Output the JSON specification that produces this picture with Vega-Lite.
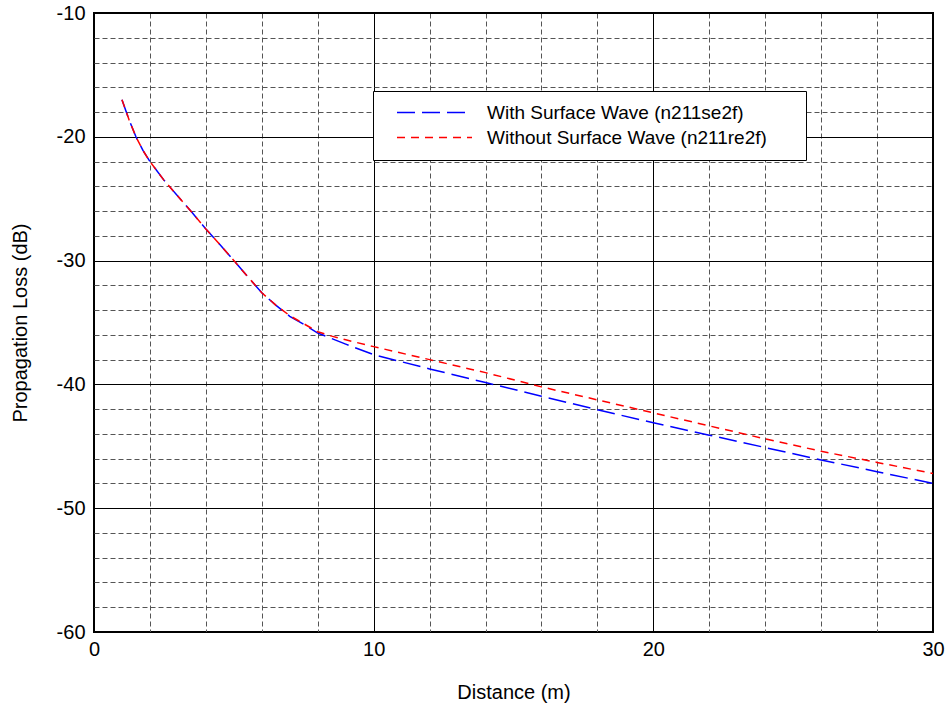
{
  "$schema": "https://vega.github.io/schema/vega-lite/v6.json",
  "autosize": {"type": "none"},
  "width": 839,
  "height": 619,
  "padding": {"left": 94, "top": 13, "right": 15, "bottom": 75},
  "background": "white",
  "config": {
    "view": {"stroke": "black", "strokeWidth": 2},
    "font": "Liberation Sans",
    "axis": {
      "labelFont": "Liberation Sans",
      "labelFontSize": 20,
      "labelColor": "black",
      "titleFont": "Liberation Sans",
      "titleFontSize": 20,
      "titleFontWeight": "normal",
      "titleColor": "black",
      "ticks": false,
      "tickSize": 0,
      "domain": false,
      "grid": true,
      "gridOpacity": 1,
      "gridWidth": 1
    }
  },
  "data": {
    "values": [
      {"series": "With Surface Wave (n211se2f)", "d": 1.0, "loss": -17.0},
      {"series": "With Surface Wave (n211se2f)", "d": 1.25, "loss": -18.6},
      {"series": "With Surface Wave (n211se2f)", "d": 1.5, "loss": -20.0},
      {"series": "With Surface Wave (n211se2f)", "d": 1.75, "loss": -21.1},
      {"series": "With Surface Wave (n211se2f)", "d": 2.0, "loss": -22.0},
      {"series": "With Surface Wave (n211se2f)", "d": 2.5, "loss": -23.5},
      {"series": "With Surface Wave (n211se2f)", "d": 3.0, "loss": -24.8},
      {"series": "With Surface Wave (n211se2f)", "d": 3.5, "loss": -26.1},
      {"series": "With Surface Wave (n211se2f)", "d": 4.0, "loss": -27.45},
      {"series": "With Surface Wave (n211se2f)", "d": 4.5, "loss": -28.7},
      {"series": "With Surface Wave (n211se2f)", "d": 5.0, "loss": -30.0},
      {"series": "With Surface Wave (n211se2f)", "d": 5.5, "loss": -31.3},
      {"series": "With Surface Wave (n211se2f)", "d": 6.0, "loss": -32.6},
      {"series": "With Surface Wave (n211se2f)", "d": 6.5, "loss": -33.6},
      {"series": "With Surface Wave (n211se2f)", "d": 7.0, "loss": -34.5},
      {"series": "With Surface Wave (n211se2f)", "d": 7.5, "loss": -35.15},
      {"series": "With Surface Wave (n211se2f)", "d": 8.0, "loss": -35.85},
      {"series": "With Surface Wave (n211se2f)", "d": 8.5, "loss": -36.3},
      {"series": "With Surface Wave (n211se2f)", "d": 9.0, "loss": -36.75},
      {"series": "With Surface Wave (n211se2f)", "d": 10.0, "loss": -37.6},
      {"series": "With Surface Wave (n211se2f)", "d": 12.0, "loss": -38.75},
      {"series": "With Surface Wave (n211se2f)", "d": 14.0, "loss": -39.85},
      {"series": "With Surface Wave (n211se2f)", "d": 16.0, "loss": -40.95},
      {"series": "With Surface Wave (n211se2f)", "d": 18.0, "loss": -42.05},
      {"series": "With Surface Wave (n211se2f)", "d": 20.0, "loss": -43.1},
      {"series": "With Surface Wave (n211se2f)", "d": 22.0, "loss": -44.1},
      {"series": "With Surface Wave (n211se2f)", "d": 24.0, "loss": -45.1},
      {"series": "With Surface Wave (n211se2f)", "d": 26.0, "loss": -46.1},
      {"series": "With Surface Wave (n211se2f)", "d": 28.0, "loss": -47.05},
      {"series": "With Surface Wave (n211se2f)", "d": 30.0, "loss": -48.0},
      {"series": "Without Surface Wave (n211re2f)", "d": 1.0, "loss": -17.0},
      {"series": "Without Surface Wave (n211re2f)", "d": 1.25, "loss": -18.6},
      {"series": "Without Surface Wave (n211re2f)", "d": 1.5, "loss": -20.0},
      {"series": "Without Surface Wave (n211re2f)", "d": 1.75, "loss": -21.1},
      {"series": "Without Surface Wave (n211re2f)", "d": 2.0, "loss": -22.0},
      {"series": "Without Surface Wave (n211re2f)", "d": 2.5, "loss": -23.5},
      {"series": "Without Surface Wave (n211re2f)", "d": 3.0, "loss": -24.8},
      {"series": "Without Surface Wave (n211re2f)", "d": 3.5, "loss": -26.1},
      {"series": "Without Surface Wave (n211re2f)", "d": 4.0, "loss": -27.45},
      {"series": "Without Surface Wave (n211re2f)", "d": 4.5, "loss": -28.7},
      {"series": "Without Surface Wave (n211re2f)", "d": 5.0, "loss": -30.0},
      {"series": "Without Surface Wave (n211re2f)", "d": 5.5, "loss": -31.3},
      {"series": "Without Surface Wave (n211re2f)", "d": 6.0, "loss": -32.6},
      {"series": "Without Surface Wave (n211re2f)", "d": 6.5, "loss": -33.6},
      {"series": "Without Surface Wave (n211re2f)", "d": 7.0, "loss": -34.45},
      {"series": "Without Surface Wave (n211re2f)", "d": 7.5, "loss": -35.1},
      {"series": "Without Surface Wave (n211re2f)", "d": 8.0, "loss": -35.75},
      {"series": "Without Surface Wave (n211re2f)", "d": 8.5, "loss": -36.1},
      {"series": "Without Surface Wave (n211re2f)", "d": 9.0, "loss": -36.4},
      {"series": "Without Surface Wave (n211re2f)", "d": 10.0, "loss": -36.95},
      {"series": "Without Surface Wave (n211re2f)", "d": 12.0, "loss": -38.0},
      {"series": "Without Surface Wave (n211re2f)", "d": 14.0, "loss": -39.05},
      {"series": "Without Surface Wave (n211re2f)", "d": 16.0, "loss": -40.2},
      {"series": "Without Surface Wave (n211re2f)", "d": 18.0, "loss": -41.25},
      {"series": "Without Surface Wave (n211re2f)", "d": 20.0, "loss": -42.3},
      {"series": "Without Surface Wave (n211re2f)", "d": 22.0, "loss": -43.35},
      {"series": "Without Surface Wave (n211re2f)", "d": 24.0, "loss": -44.4},
      {"series": "Without Surface Wave (n211re2f)", "d": 26.0, "loss": -45.4},
      {"series": "Without Surface Wave (n211re2f)", "d": 28.0, "loss": -46.3},
      {"series": "Without Surface Wave (n211re2f)", "d": 30.0, "loss": -47.2}
    ]
  },
  "mark": {"type": "line", "strokeWidth": 1.5, "clip": true},
  "encoding": {
    "x": {
      "field": "d",
      "type": "quantitative",
      "title": "Distance (m)",
      "scale": {"domain": [0, 30], "nice": false, "zero": false},
      "axis": {
        "values": [0, 2, 4, 6, 8, 10, 12, 14, 16, 18, 20, 22, 24, 26, 28, 30],
        "labelExpr": "datum.value % 10 === 0 ? '' + datum.value : ''",
        "labelPadding": 7,
        "labelFlush": false,
        "labelOverlap": false,
        "titleY": 66,
        "titleBaseline": "alphabetic",
        "gridDash": {"condition": {"test": "datum.value % 10 === 0", "value": []}, "value": [5, 3]},
        "gridColor": {"condition": {"test": "datum.value % 10 === 0", "value": "#000000"}, "value": "#555555"}
      }
    },
    "y": {
      "field": "loss",
      "type": "quantitative",
      "title": "Propagation Loss (dB)",
      "scale": {"domain": [-60, -10], "nice": false, "zero": false},
      "axis": {
        "values": [-60, -58, -56, -54, -52, -50, -48, -46, -44, -42, -40, -38, -36, -34, -32, -30, -28, -26, -24, -22, -20, -18, -16, -14, -12, -10],
        "labelExpr": "datum.value % 10 === 0 ? '' + datum.value : ''",
        "labelPadding": 9,
        "labelFlush": false,
        "labelOverlap": false,
        "titleX": -68,
        "titleBaseline": "alphabetic",
        "gridDash": {"condition": {"test": "datum.value % 10 === 0", "value": []}, "value": [5, 3]},
        "gridColor": {"condition": {"test": "datum.value % 10 === 0", "value": "#000000"}, "value": "#555555"}
      }
    },
    "color": {
      "field": "series",
      "type": "nominal",
      "scale": {
        "domain": ["With Surface Wave (n211se2f)", "Without Surface Wave (n211re2f)"],
        "range": ["#0000ff", "#ff0000"]
      },
      "legend": {
        "orient": "none",
        "legendX": 279,
        "legendY": 78,
        "title": "\u00a0",
        "titleOrient": "right",
        "titleFontSize": 11,
        "titlePadding": 27,
        "symbolType": "M-5,0H5",
        "symbolSize": 225,
        "symbolOffset": 40,
        "symbolStrokeWidth": 1.5,
        "labelOffset": 43,
        "labelFont": "Liberation Sans",
        "labelFontSize": 19,
        "labelColor": "black",
        "labelLimit": 500,
        "padding": 12,
        "rowPadding": 5,
        "strokeColor": "black",
        "fillColor": "white"
      }
    },
    "strokeDash": {
      "field": "series",
      "type": "nominal",
      "scale": {
        "domain": ["With Surface Wave (n211se2f)", "Without Surface Wave (n211re2f)"],
        "range": [[18, 7], [8, 6]]
      },
      "legend": null
    }
  }
}
